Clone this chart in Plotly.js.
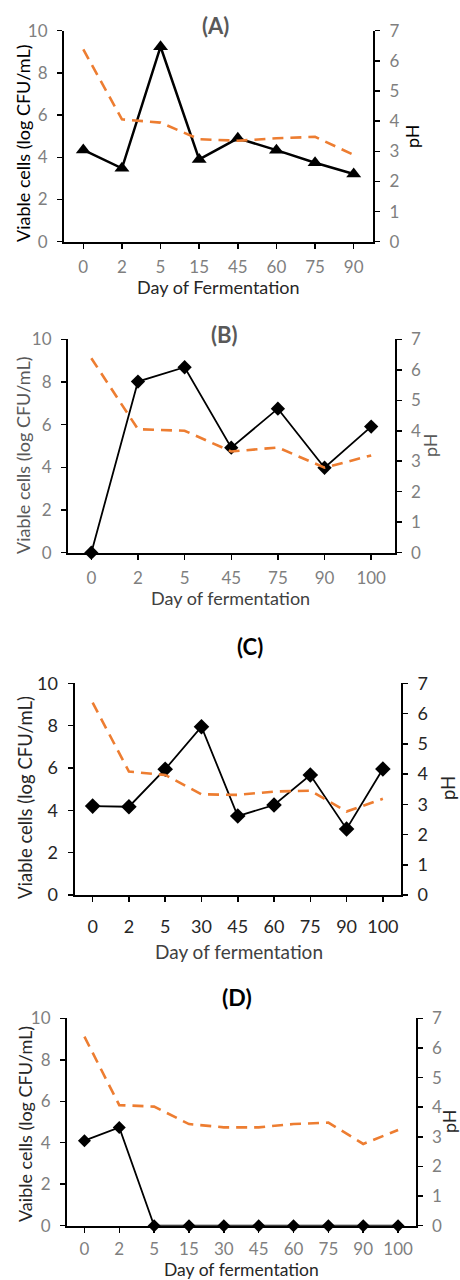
<!DOCTYPE html>
<html>
<head>
<meta charset="utf-8">
<script src="https://cdn.plot.ly/plotly-3.0.1.min.js"></script>
<style>html,body{margin:0;padding:0;background:#fff;}#chart{width:460px;height:1280px;}</style>
</head>
<body>
<div id="chart"></div>
<script>
// ---- Data ----
const daysA  = ['0','2','5','15','45','60','75','90'];
const cellsA = [4.35, 3.48, 9.24, 3.90, 4.90, 4.34, 3.74, 3.21];
const phA    = [6.38, 4.06, 3.95, 3.40, 3.35, 3.43, 3.48, 2.88];

const daysB  = ['0','2','5','45','75','90','100'];
const cellsB = [0.0, 8.02, 8.69, 4.92, 6.75, 3.98, 5.91];
const phB    = [6.38, 4.05, 4.00, 3.32, 3.45, 2.79, 3.19];

const daysC  = ['0','2','5','30','45','60','75','90','100'];
const cellsC = [4.20, 4.17, 5.94, 7.95, 3.73, 4.25, 5.67, 3.12, 5.95];
const phC    = [6.36, 4.08, 3.97, 3.33, 3.31, 3.42, 3.45, 2.76, 3.18];

const daysD  = ['0','2','5','15','30','45','60','75','90','100'];
const cellsD = [4.10, 4.74, 0, 0, 0, 0, 0, 0, 0, 0];
const phD    = [6.38, 4.07, 4.02, 3.43, 3.32, 3.32, 3.43, 3.48, 2.76, 3.23];

const panelTitles = ['(A)', '(B)', '(C)', '(D)'];
const xTitles = ['Day of Fermentation', 'Day of fermentation', 'Day of fermentation', 'Day of fermentation'];
const yTitles = ['Viable cells (log CFU/mL)', 'Viable cells (log CFU/mL)', 'Viable cells (log CFU/mL)', 'Vaible cells (log CFU/mL)'];
const y2Title = 'pH';

// ---- Layout geometry (pixels) ----
const W = 460, H = 1280;
const FONT = 'Lato, "Liberation Sans", sans-serif';
const px = x => x / W;
const py = y => 1 - y / H;

const panels = [
  {days: daysA, cells: cellsA, ph: phA, box: [64, 373, 30.7, 241.7], marker: 'triangle-up', msize: 13, lw: 2.5,
   tickColor: '#7f7f7f', tickSize: 17, xStand: 4, titleColor: '#595959', xtColor: '#262626', ytColor: '#000000',
   tSize: 22, xtSize: 18, ytSize: 18,
   tpos: [215, 26], ypos: [23, 144], y2pos: [412, 136], xpos: [218, 287]},
  {days: daysB, cells: cellsB, ph: phB, box: [68, 394.5, 339.3, 552.7], marker: 'diamond', msize: 11, lw: 1.8,
   tickColor: '#7f7f7f', tickSize: 17, xStand: 4, titleColor: '#595959', xtColor: '#404040', ytColor: '#595959',
   tSize: 22, xtSize: 18, ytSize: 18,
   tpos: [224, 334], ypos: [23, 456], y2pos: [430, 445], xpos: [230, 598]},
  {days: daysC, cells: cellsC, ph: phC, box: [74.5, 401, 683.3, 895], marker: 'diamond', msize: 12, lw: 1.8,
   tickColor: '#262626', tickSize: 18, xStand: 9, titleColor: '#000000', xtColor: '#404040', ytColor: '#262626',
   tSize: 22, xtSize: 19, ytSize: 18.5,
   tpos: [250, 646], ypos: [25, 798], y2pos: [448, 788], xpos: [239, 951]},
  {days: daysD, cells: cellsD, ph: phD, box: [67, 415.5, 1018.3, 1225.7], marker: 'diamond', msize: 10, lw: 1.8,
   tickColor: '#7f7f7f', tickSize: 17, xStand: 2, titleColor: '#000000', xtColor: '#262626', ytColor: '#262626',
   tSize: 23, xtSize: 17.5, ytSize: 18,
   tpos: [237, 997], ypos: [25, 1124], y2pos: [449, 1121], xpos: [242, 1269.5]}
];

const traces = [];
const layout = {
  width: W, height: H,
  margin: {l: 0, r: 0, t: 0, b: 0},
  paper_bgcolor: '#ffffff', plot_bgcolor: 'rgba(0,0,0,0)',
  showlegend: false,
  font: {family: FONT, color: '#000'},
  annotations: []
};

panels.forEach((p, i) => {
  const xa = 'x' + (i + 1);
  const yl = 'y' + (2 * i + 1);
  const yr = 'y' + (2 * i + 2);
  const xKey = 'xaxis' + (i + 1);
  const ylKey = 'yaxis' + (2 * i + 1);
  const yrKey = 'yaxis' + (2 * i + 2);
  const [x0, x1, y0, y1] = p.box;

  traces.push({
    type: 'scatter', mode: 'lines', x: p.days, y: p.ph, xaxis: xa, yaxis: yr,
    line: {color: '#ED7D31', width: 2.6, dash: '11px,7px'}, hoverinfo: 'skip'
  });
  traces.push({
    type: 'scatter', mode: 'lines+markers', x: p.days, y: p.cells, xaxis: xa, yaxis: yl,
    line: {color: '#000000', width: p.lw},
    marker: {symbol: p.marker, size: p.msize, color: '#000000'}, cliponaxis: false
  });

  const tickfont = {family: FONT, size: p.tickSize, color: p.tickColor};
  layout[xKey] = {
    type: 'category', domain: [px(x0), px(x1)], anchor: yl,
    range: [-0.5, p.days.length - 0.5],
    showline: true, linecolor: '#000', linewidth: 2,
    ticks: 'outside', ticklen: 5, tickwidth: 1.5, tickcolor: '#000',
    tickfont: tickfont, ticklabelstandoff: p.xStand,
    showgrid: false, zeroline: false, fixedrange: true
  };
  layout[ylKey] = {
    domain: [py(y1), py(y0)], anchor: xa, range: [0, 10], dtick: 2, tick0: 0,
    showline: true, linecolor: '#000', linewidth: 2,
    ticks: 'outside', ticklen: 5, tickwidth: 1.5, tickcolor: '#000',
    tickfont: tickfont, ticklabelstandoff: 6,
    showgrid: false, zeroline: false, fixedrange: true
  };
  layout[yrKey] = {
    overlaying: yl, side: 'right', anchor: xa, range: [0, 7], dtick: 1, tick0: 0,
    showline: true, linecolor: '#000', linewidth: 2,
    ticks: 'outside', ticklen: 5, tickwidth: 1.5, tickcolor: '#000',
    tickfont: tickfont, ticklabelstandoff: 6,
    showgrid: false, zeroline: false, fixedrange: true
  };

  const ann = (text, pos, opts) => Object.assign({
    text: text, xref: 'paper', yref: 'paper', x: px(pos[0]), y: py(pos[1]),
    xanchor: 'center', yanchor: 'middle', showarrow: false
  }, opts);

  layout.annotations.push(ann('<b>' + panelTitles[i] + '</b>', p.tpos,
    {font: {family: FONT, size: p.tSize, color: p.titleColor}}));
  layout.annotations.push(ann(yTitles[i], p.ypos,
    {textangle: -90, font: {family: FONT, size: p.ytSize, color: p.ytColor}}));
  layout.annotations.push(ann(y2Title, p.y2pos,
    {textangle: -90, font: {family: FONT, size: p.ytSize, color: p.ytColor}}));
  layout.annotations.push(ann(xTitles[i], p.xpos,
    {font: {family: FONT, size: p.xtSize, color: p.xtColor}}));
});

Plotly.newPlot('chart', traces, layout, {staticPlot: true, displayModeBar: false});
</script>
</body>
</html>
